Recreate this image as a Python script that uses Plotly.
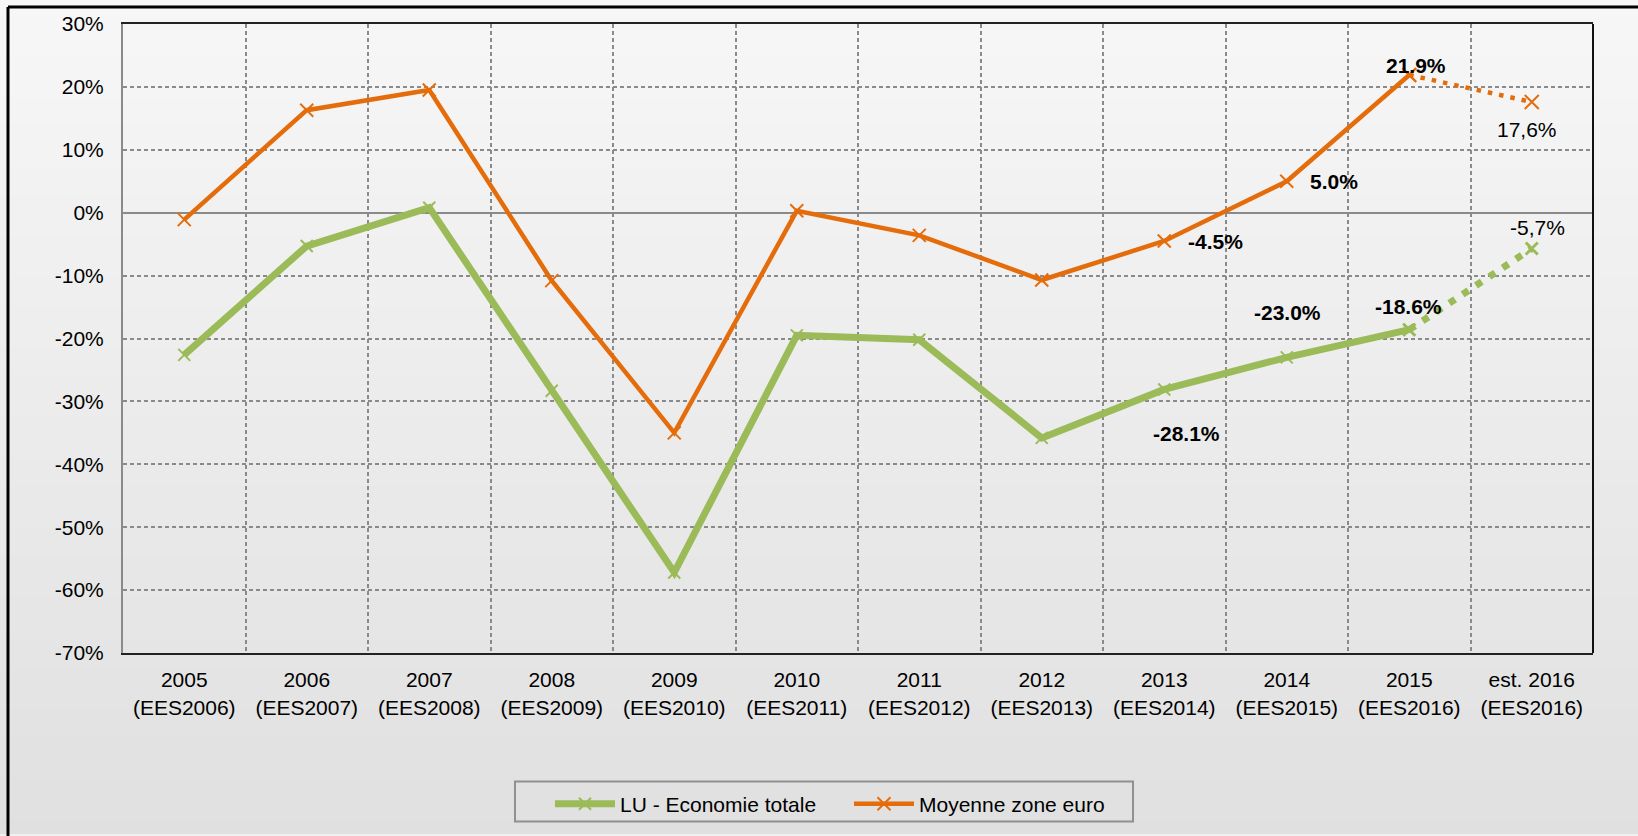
import plotly.graph_objects as go

# Categories and series (percent values)
categories = [
    "2005<br>(EES2006)", "2006<br>(EES2007)", "2007<br>(EES2008)", "2008<br>(EES2009)",
    "2009<br>(EES2010)", "2010<br>(EES2011)", "2011<br>(EES2012)", "2012<br>(EES2013)",
    "2013<br>(EES2014)", "2014<br>(EES2015)", "2015<br>(EES2016)", "est. 2016<br>(EES2016)",
]
lu_total = [-22.6, -5.3, 0.8, -28.3, -57.2, -19.5, -20.2, -35.8, -28.1, -23.0, -18.6]
eurozone = [-1.1, 16.3, 19.5, -10.8, -35.0, 0.3, -3.6, -10.7, -4.5, 5.0, 21.9]
lu_est_2016 = -5.7
eurozone_est_2016 = 17.6

y_tick_values = [30, 20, 10, 0, -10, -20, -30, -40, -50, -60, -70]
y_tick_labels = ["30%", "20%", "10%", "0%", "-10%", "-20%", "-30%", "-40%", "-50%", "-60%", "-70%"]

GREEN = "#9BBB59"
ORANGE = "#E46C0A"
FONT = "Liberation Sans, Arial, sans-serif"
FS = 21

W, H = 1638, 836
ML, MR, MT, MB = 123, 45, 24, 181
PW, PH = W - ML - MR, H - MT - MB


def paper_x(px):
    return (px - ML) / PW


def paper_y(py):
    return (H - MB - py) / PH


fig = go.Figure()

n_obs = len(lu_total)
obs_cats = categories[:n_obs]

# Solid observed series
fig.add_trace(go.Scatter(
    x=obs_cats, y=lu_total, name="LU - Economie totale", mode="lines+markers",
    line=dict(color=GREEN, width=7),
    marker=dict(symbol="x-thin", size=12, line=dict(color=GREEN, width=2), color=GREEN),
))
fig.add_trace(go.Scatter(
    x=obs_cats, y=eurozone, name="Moyenne zone euro", mode="lines+markers",
    line=dict(color=ORANGE, width=4.5),
    marker=dict(symbol="x-thin", size=13, line=dict(color=ORANGE, width=2), color=ORANGE),
))

# Dotted estimate segments (last observed -> estimate)
est_cats = categories[n_obs - 1:n_obs + 1]
fig.add_trace(go.Scatter(
    x=est_cats, y=[lu_total[-1], lu_est_2016], mode="lines+markers", showlegend=False,
    line=dict(color=GREEN, width=7, dash="7px,9px"),
    marker=dict(symbol="x-thin", size=12, line=dict(color=GREEN, width=3), color=GREEN),
))
fig.add_trace(go.Scatter(
    x=est_cats, y=[eurozone[-1], eurozone_est_2016], mode="lines+markers", showlegend=False,
    line=dict(color=ORANGE, width=4.5, dash="4.5px,7px"),
    marker=dict(symbol="x-thin", size=14, line=dict(color=ORANGE, width=2), color=ORANGE),
))

# Value labels: (category index, value, text, bold, xshift, yshift)
labels = [
    (10, eurozone[10], "21.9%", True, 7, 9),
    (11, eurozone_est_2016, "17,6%", False, -5, -27),
    (9, eurozone[9], "5.0%", True, 47, 0),
    (8, eurozone[8], "-4.5%", True, 51, 0),
    (11, lu_est_2016, "-5,7%", False, 6, 21),
    (10, lu_total[10], "-18.6%", True, -1, 23),
    (9, lu_total[9], "-23.0%", True, 1, 45),
    (8, lu_total[8], "-28.1%", True, 22, -44),
]
for idx, val, txt, bold, xs, ys in labels:
    fig.add_annotation(
        x=categories[idx], y=val, text=f"<b>{txt}</b>" if bold else txt,
        showarrow=False, xshift=xs, yshift=ys,
        font=dict(family=FONT, size=FS, color="#000000"),
    )

# Vertical gradient background built from thin bands
shapes = []
n_bands = 60
y_top, y_bot = paper_y(0), paper_y(H)
top_rgb, bot_rgb = (247, 247, 247), (224, 224, 224)
for i in range(n_bands):
    t = (i + 0.5) / n_bands
    c = tuple(round(a + (b - a) * t) for a, b in zip(top_rgb, bot_rgb))
    y0 = y_top + (y_bot - y_top) * i / n_bands
    y1 = y_top + (y_bot - y_top) * (i + 1) / n_bands
    shapes.append(dict(
        type="rect", xref="paper", yref="paper", layer="below",
        x0=paper_x(0), x1=paper_x(W), y0=y0, y1=y1 - 0.001,
        fillcolor=f"rgb{c}", line=dict(width=0),
    ))

# Outer frame (top and left edges)
shapes.append(dict(type="line", xref="paper", yref="paper",
                   x0=paper_x(8), x1=paper_x(W + 5), y0=paper_y(7), y1=paper_y(7),
                   line=dict(color="#000000", width=3)))
shapes.append(dict(type="line", xref="paper", yref="paper",
                   x0=paper_x(8), x1=paper_x(8), y0=paper_y(7), y1=paper_y(H + 5),
                   line=dict(color="#000000", width=3)))
# Right edge of plot area
shapes.append(dict(type="line", xref="paper", yref="paper",
                   x0=1, x1=1, y0=0, y1=1, line=dict(color="#111111", width=2)))
# Legend frame
shapes.append(dict(type="rect", xref="paper", yref="paper",
                   x0=paper_x(515), x1=paper_x(1133), y0=paper_y(784), y1=paper_y(824),
                   line=dict(color="#909090", width=2), fillcolor="rgba(0,0,0,0)"))

fig.update_layout(
    width=W, height=H,
    margin=dict(l=ML, r=MR, t=MT, b=MB),
    paper_bgcolor="#f0f0f0",
    plot_bgcolor="rgba(0,0,0,0)",
    font=dict(family=FONT, size=FS, color="#000000"),
    shapes=shapes,
    showlegend=True,
    legend=dict(
        orientation="h", x=paper_x(550), y=paper_y(786), xanchor="left", yanchor="top",
        bgcolor="rgba(0,0,0,0)", borderwidth=0,
        font=dict(family=FONT, size=FS, color="#000000"),
        itemwidth=60, entrywidth=224, entrywidthmode="pixels",
    ),
)

fig.update_xaxes(
    type="category", categoryorder="array", categoryarray=categories,
    range=[-0.5, len(categories) - 0.5],
    tickson="boundaries", ticks="", showgrid=True,
    gridcolor="#8a8a8a", gridwidth=1.5, griddash="4px,3px",
    showline=True, linecolor="#222222", linewidth=2, mirror=True,
    ticklabelstandoff=7,
    tickfont=dict(family=FONT, size=FS, color="#000000"),
)
fig.update_yaxes(
    range=[-70, 30], tickvals=y_tick_values, ticktext=y_tick_labels,
    showgrid=True, gridcolor="#8a8a8a", gridwidth=1.5, griddash="4px,3px",
    zeroline=True, zerolinecolor="#8a8a8a", zerolinewidth=2,
    showline=True, linecolor="#8a8a8a", linewidth=2,
    ticks="", ticklabelstandoff=13,
    tickfont=dict(family=FONT, size=FS, color="#000000"),
)

fig.write_html("out.html")
